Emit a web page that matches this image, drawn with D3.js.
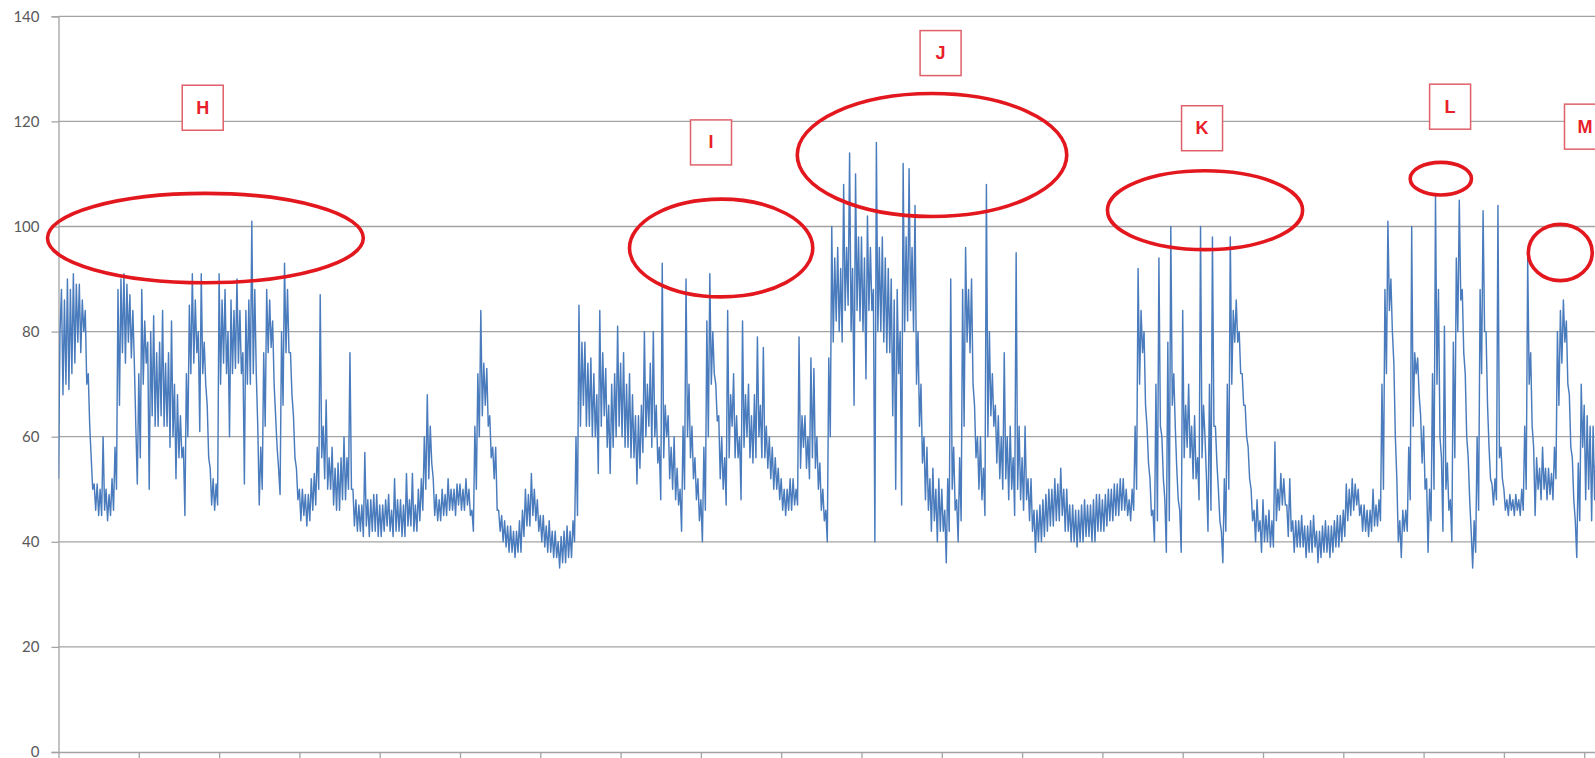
<!DOCTYPE html>
<html><head><meta charset="utf-8">
<script src="https://cdn.jsdelivr.net/npm/d3@7/dist/d3.min.js"></script>
<style>
body{margin:0;background:#fff;}
svg{display:block;}
</style>
</head><body>
<svg id="chart" width="1595" height="758"></svg>
<script>
(function () {
// ---- data ----
const yTickValues = [0, 20, 40, 60, 80, 100, 120, 140];
const yTickLabels = ["0", "20", "40", "60", "80", "100", "120", "140"];
const samplesPerCategory = 54;    // samples between two x tick marks
const categoryCount = 20;          // x tick intervals

const values = [
  // category 0
  52,80,88,68,86,70,90,69,88,72,91,74,89,78,89,76,86,80,84,70,72,62,56,50,51,46,51,45,50,45,60,46,50,44,49,45,52,46,58,50,88,66,90,76,91,74,89,78,87,75,84,74,62,51,
  // category 1
  72,56,88,70,82,74,78,50,80,64,83,62,76,62,78,64,84,62,74,62,76,58,82,60,70,52,68,56,64,56,58,45,72,60,85,72,91,74,86,76,80,61,91,72,78,70,66,56,54,47,52,46,51,47,
  // category 2
  91,70,86,74,88,72,80,60,86,72,84,73,90,74,84,72,76,51,84,70,86,70,101,72,88,72,62,47,58,50,76,62,88,76,86,77,82,70,64,58,54,49,80,66,93,76,88,76,76,68,64,56,54,48,
  // category 3
  50,44,50,45,49,43,49,44,52,46,53,47,58,50,87,56,62,52,67,50,56,50,58,47,54,46,55,46,56,48,60,48,56,50,76,50,50,43,48,42,47,42,47,41,57,43,48,41,48,42,49,42,49,41,
  // category 4
  47,41,47,42,48,43,49,42,46,41,52,42,48,42,48,41,47,41,53,43,48,43,53,42,47,42,50,44,52,46,60,50,68,52,62,55,52,45,49,44,48,44,50,45,49,45,52,46,50,46,50,45,51,47,
  // category 5
  51,46,50,46,52,47,50,45,46,42,62,50,72,60,84,64,74,66,73,62,64,56,58,52,58,46,46,42,45,40,44,39,43,38,43,38,42,37,42,38,44,38,46,41,50,43,49,43,53,45,50,44,48,42,
  // category 6
  45,40,45,39,43,38,44,38,42,37,42,37,40,35,41,36,42,36,43,37,42,37,44,40,60,45,85,62,78,66,78,62,74,62,75,60,72,60,68,53,84,62,76,64,73,58,66,53,70,58,72,60,81,62,
  // category 7
  74,60,76,58,70,58,72,56,68,56,64,51,64,54,66,57,80,60,70,62,74,58,80,60,66,55,58,48,93,56,66,60,64,52,58,50,60,48,54,47,50,42,62,50,90,60,70,56,62,52,56,48,52,44,
  // category 8
  48,40,58,46,82,60,91,70,80,72,70,63,64,52,60,50,56,47,84,56,68,62,72,56,64,56,60,48,82,58,68,60,70,56,64,55,68,56,79,60,66,56,77,56,62,54,60,52,58,50,56,50,54,48,
  // category 9
  52,46,50,45,50,46,52,46,52,47,50,47,79,54,64,58,64,54,60,52,75,56,73,54,60,50,55,46,50,44,46,40,75,60,100,78,94,82,96,80,92,78,108,84,96,85,114,80,92,66,110,84,98,82,
  // category 10
  98,80,94,71,102,84,96,84,88,40,116,80,96,80,98,78,94,76,92,76,90,64,86,50,88,72,80,47,112,80,98,82,111,84,96,80,104,70,80,62,70,55,60,48,58,46,52,42,54,44,50,40,52,42,
  // category 11
  50,42,46,36,52,42,90,50,58,46,48,40,56,44,88,62,96,78,88,76,90,70,66,56,60,50,60,48,54,45,108,60,80,64,72,62,66,55,64,52,60,50,76,52,60,48,62,50,56,45,95,50,62,48,
  // category 12
  56,46,62,48,52,44,52,42,46,38,46,40,47,40,48,41,49,42,50,43,50,43,52,44,51,44,54,45,50,42,50,42,47,40,47,40,46,39,46,40,47,40,48,41,47,41,47,40,48,40,49,42,49,42,
  // category 13
  48,42,49,43,50,44,50,44,51,45,51,45,52,46,52,46,50,45,48,44,50,46,62,50,92,70,84,76,80,66,62,55,52,45,46,40,70,44,94,62,60,52,48,38,78,44,100,66,72,62,54,48,46,38,
  // category 14
  84,56,66,58,70,56,62,52,64,52,56,48,100,56,66,60,52,42,70,46,98,62,62,55,50,44,42,36,52,42,70,50,98,70,84,78,86,78,80,72,72,66,66,60,58,52,50,44,46,40,48,42,44,38,
  // category 15
  48,40,45,40,46,39,44,39,59,44,50,46,53,47,52,47,47,41,52,42,44,38,44,39,44,39,45,39,43,37,43,38,44,38,45,39,42,36,42,37,43,38,44,38,43,37,43,38,44,39,45,39,45,40,
  // category 16
  46,41,51,44,50,45,52,46,51,47,50,45,47,42,47,42,46,41,46,42,50,43,47,43,48,44,70,50,88,72,101,84,90,80,74,60,52,40,44,37,46,42,46,42,58,48,100,62,76,72,75,68,64,55,
  // category 17
  62,50,52,38,50,44,72,50,106,70,88,60,56,42,81,50,55,46,48,40,78,56,94,80,105,86,88,76,72,60,56,48,42,35,44,38,60,46,88,72,103,80,80,66,58,52,51,47,52,48,104,56,58,52,
  // category 18
  50,46,48,45,49,46,48,45,49,46,48,45,50,46,62,50,94,70,76,62,58,45,56,50,54,48,58,50,54,48,54,49,53,48,58,52,80,66,84,74,86,78,82,70,68,58,56,48,44,37,55,44,70,58,
  // category 19
  66,48,64,50,62,44,62,48,58,42,60,46,56,40,55,44
];

// annotations (x in category units, y in value units)
const noteLabels   = ["H", "I", "J", "K", "L", "M"];
const noteLabelCat = [1.796, 8.126, 10.985, 14.241, 17.330, 19.01];
const noteLabelVal = [122.6, 116.0, 133.0, 118.7, 122.8, 119.0];
const ringCatFrom  = [-0.137, 7.111, 9.200, 13.063, 16.833, 18.304];
const ringCatTo    = [3.796, 9.393, 12.556, 15.493, 17.596, 19.100];
const ringValFrom  = [89.3, 86.6, 101.9, 95.6, 106.0, 89.7];
const ringValTo    = [106.3, 105.2, 125.3, 110.6, 112.2, 100.4];

// ---- drawing ----
const W = 1595, H = 758;
const plotLeft = 58.5, plotTop = 16.3, plotBottom = 752, tickStep = 80.3;
const svg = d3.select("#chart");

const x = d3.scaleLinear()
  .domain([0, categoryCount])
  .range([plotLeft, plotLeft + tickStep * categoryCount]);
const y = d3.scaleLinear().domain([0, 140]).range([plotBottom, plotTop]);

svg.append("defs").append("clipPath").attr("id", "clip")
  .append("rect").attr("x", plotLeft).attr("y", 0).attr("width", W - plotLeft).attr("height", H);

// grid lines
svg.append("g")
  .selectAll("line").data(yTickValues.filter(v => v > 0)).join("line")
  .attr("x1", plotLeft).attr("x2", W)
  .attr("y1", d => y(d)).attr("y2", d => y(d))
  .attr("stroke", "#a3a3a3").attr("stroke-width", 1.3);

// y axis
const yAxis = d3.axisLeft(y).tickValues(yTickValues)
  .tickFormat((d, i) => yTickLabels[i]).tickSize(7).tickPadding(12);
const gy = svg.append("g").attr("transform", `translate(${plotLeft},0)`).call(yAxis);
gy.select(".domain").attr("stroke", "#a3a3a3").attr("stroke-width", 1.3);
gy.selectAll(".tick line").attr("stroke", "#a3a3a3").attr("stroke-width", 1.3);
gy.selectAll(".tick text").attr("fill", "#595959")
  .style("font-family", "Lato, 'Open Sans', sans-serif").style("font-size", "15px");

// x axis (ticks only)
const xAxis = d3.axisBottom(x).tickValues(d3.range(0, categoryCount + 1))
  .tickFormat("").tickSize(7).tickSizeOuter(0);
const gx = svg.append("g").attr("transform", `translate(0,${plotBottom})`).call(xAxis);
gx.select(".domain").attr("stroke", "#a3a3a3").attr("stroke-width", 1.3);
gx.selectAll(".tick line").attr("stroke", "#a3a3a3").attr("stroke-width", 1.3);

// series line
const line = d3.line().x((d, i) => x(i / samplesPerCategory)).y(d => y(d));
svg.append("path")
  .datum(values)
  .attr("clip-path", "url(#clip)")
  .attr("fill", "none")
  .attr("stroke", "#4a7cbd")
  .attr("stroke-width", 1.45)
  .attr("stroke-linejoin", "round")
  .attr("d", line);

// annotation rings
const rings = svg.append("g");
noteLabels.forEach((lab, i) => {
  const cx = (x(ringCatFrom[i]) + x(ringCatTo[i])) / 2;
  const cy = (y(ringValFrom[i]) + y(ringValTo[i])) / 2;
  const rx = Math.abs(x(ringCatTo[i]) - x(ringCatFrom[i])) / 2;
  const ry = Math.abs(y(ringValFrom[i]) - y(ringValTo[i])) / 2;
  rings.append("ellipse")
    .attr("cx", cx).attr("cy", cy).attr("rx", rx).attr("ry", ry)
    .attr("fill", "none").attr("stroke", "#e3171e").attr("stroke-width", 3.6);
});

// annotation labels
const boxW = 41, boxH = 45;
const labs = svg.append("g");
noteLabels.forEach((lab, i) => {
  const cx = x(noteLabelCat[i]), cy = y(noteLabelVal[i]);
  labs.append("rect")
    .attr("x", cx - boxW / 2).attr("y", cy - boxH / 2)
    .attr("width", boxW).attr("height", boxH)
    .attr("fill", "#fff").attr("stroke", "#e0606a").attr("stroke-width", 1.5);
  labs.append("text")
    .attr("x", cx).attr("y", cy)
    .attr("text-anchor", "middle").attr("dominant-baseline", "central")
    .attr("fill", "#e8202a")
    .style("font-family", "'Liberation Sans', Arial, sans-serif")
    .style("font-weight", "bold").style("font-size", "18px")
    .text(lab);
});
})();
</script>
</body></html>
